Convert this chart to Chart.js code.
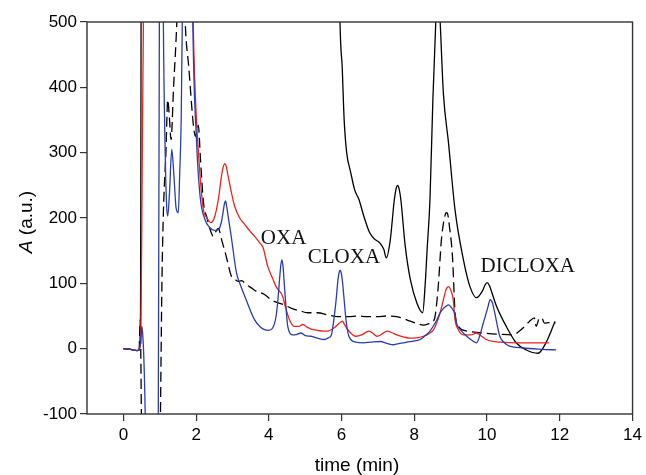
<!DOCTYPE html>
<html>
<head>
<meta charset="utf-8">
<script src="https://cdn.jsdelivr.net/npm/chart.js@4.4.1/dist/chart.umd.min.js"></script>
<style>html,body{margin:0;padding:0;background:#fff}canvas{display:block}</style>
</head>
<body>
<canvas id="c" width="646" height="475"></canvas>
<script>
// ---- data (time in min, absorbance in a.u.) ----
const xTicks = [0, 2, 4, 6, 8, 10, 12, 14];
const yTicks = [-100, 0, 100, 200, 300, 400, 500];

const blackT = [0,0.2,0.38,0.43,0.47,0.5,5.9,5.95,6.02,6.07,6.14,6.25,6.36,6.48,6.61,6.76,6.9,7.05,7.16,7.23,7.34,7.45,7.5,7.54,7.58,7.63,7.75,7.89,8.07,8.23,8.3,8.35,8.43,8.51,8.59,8.65,8.71,8.8,8.94,9.12,9.35,9.53,9.71,9.87,9.94,10.0,10.06,10.12,10.26,10.53,10.8,11.08,11.4,11.62,11.87];
const blackA = [0,-1,-3,-2,44,800,800,520,427,351,300,270,243,228,203,179,168,162,152,139,167,228,245,250,245,228,157,106,70,55,100,150,228,381,500,560,500,390,315,212,136,95,78,88,97,101,97,88,65,34,9,-2,-7,9,42];

const dashT = [0,0.2,0.38,0.43,0.465,0.48,0.495,0.53,0.98,1.02,1.06,1.1,1.17,1.22,1.27,1.31,1.38,1.47,1.55,1.63,1.7,1.8,1.92,1.98,2.06,2.12,2.2,2.3,2.4,2.47,2.55,2.61,2.7,2.83,2.97,3.07,3.15,3.25,3.38,3.52,3.65,3.88,4.06,4.16,4.43,4.61,4.85,5.07,5.34,5.6,5.89,6.2,6.43,6.7,6.98,7.25,7.52,7.7,7.89,8.05,8.25,8.43,8.55,8.65,8.75,8.85,8.88,8.91,8.97,9.05,9.12,9.21,9.44,9.89,10.35,10.71,10.89,11.05,11.17,11.3,11.35,11.44,11.5,11.58,11.7,11.88];
const dashA = [0,-1,-3,-2,44,-10,-100,-300,-300,-100,100,208,300,381,350,320,400,500,640,640,500,430,345,325,342,290,225,200,180,172,180,184,167,141,111,106,103,104,98,93,88,83,75,72,67,62,58,55,55,52,49,49,50,49,49,50,49,46,42,39,36,39,45,90,170,205,208,207,185,140,55,34,27,24,22,21,27,35,42,47,34,47,47,39,40,39];

const redT = [0,0.2,0.38,0.44,0.48,0.52,0.56,0.6,1.85,1.92,1.97,2.01,2.11,2.2,2.3,2.4,2.5,2.61,2.7,2.75,2.79,2.83,2.86,2.93,3.06,3.2,3.34,3.48,3.61,3.75,3.84,3.97,4.1,4.2,4.38,4.45,4.57,4.7,4.82,4.93,5.05,5.16,5.34,5.5,5.61,5.8,5.92,6.02,6.1,6.2,6.39,6.55,6.75,6.85,6.98,7.1,7.25,7.4,7.52,7.7,7.89,8.1,8.25,8.4,8.53,8.63,8.71,8.8,8.87,8.94,9.0,9.07,9.12,9.2,9.35,9.55,9.71,9.85,9.98,10.15,10.35,10.8,11.71];
const redA = [0,-1,-3,0,14,300,560,800,800,500,400,351,264,213,200,193,200,228,265,279,283,279,270,250,218,200,190,180,172,162,155,126,108,95,80,65,44,34,34,37,33,30,28,27,27,32,38,42,35,27,19,21,27,24,19,22,27,24,21,18,16,17,19,23,29,42,55,75,90,95,90,75,44,30,21,21,24,19,14,11,10,9,9];

const blueT = [0,0.2,0.38,0.44,0.48,0.51,0.54,0.57,0.6,0.64,0.92,0.96,0.99,1.03,1.07,1.1,1.15,1.19,1.22,1.27,1.33,1.39,1.45,1.51,1.55,1.59,1.62,1.66,1.86,1.91,2.01,2.11,2.24,2.38,2.5,2.61,2.7,2.75,2.78,2.81,2.84,2.88,2.97,3.11,3.2,3.34,3.48,3.61,3.75,3.88,4.0,4.11,4.2,4.25,4.3,4.33,4.36,4.39,4.43,4.45,4.52,4.66,4.78,4.88,5.0,5.16,5.34,5.52,5.65,5.72,5.8,5.85,5.9,5.93,5.96,5.99,6.02,6.07,6.13,6.2,6.39,6.6,6.8,7.07,7.25,7.43,7.6,7.8,8.0,8.16,8.3,8.43,8.6,8.71,8.85,8.94,9.03,9.12,9.16,9.3,9.44,9.6,9.71,9.8,9.9,10.03,10.06,10.09,10.12,10.15,10.21,10.35,10.5,10.62,10.99,11.5,11.9];
const blueA = [0,-1,-3,0,15,34,15,-27,-98,-300,-300,-100,500,800,800,500,300,218,203,240,305,265,215,208,270,351,500,800,800,500,320,233,198,185,181,182,195,212,222,226,218,203,170,116,100,80,60,44,34,29,28,32,50,75,110,128,136,126,95,80,34,21,22,24,20,19,16,14,17,21,50,75,105,116,120,116,105,75,40,19,10,9,10,11,8,6,8,10,12,14,20,27,42,55,64,67,62,52,39,27,19,12,9,20,40,65,72,75,73,70,55,19,8,4,1,-1,-2];

const peakLabels = ['OXA', 'CLOXA', 'DICLOXA'];
const peakLabelT = [3.78, 5.07, 9.82];
const peakLabelA = [160, 131, 118];

function pts(T, A) { return T.map((t, i) => ({x: t, y: A[i]})); }

const decor = {
  id: 'decor',
  beforeDraw(chart) {
    const c = chart.ctx;
    c.save(); c.fillStyle = '#fff'; c.fillRect(0, 0, chart.width, chart.height); c.restore();
  },
  afterDraw(chart) {
    const c = chart.ctx, a = chart.chartArea;
    const xs = chart.scales.x, ys = chart.scales.y;
    c.save();
    c.strokeStyle = '#333'; c.lineWidth = 1.4;
    c.strokeRect(a.left, a.top, a.right - a.left, a.bottom - a.top);
    c.fillStyle = '#111';
    c.font = '21px "Liberation Serif", "Times New Roman", serif';
    c.textAlign = 'left'; c.textBaseline = 'alphabetic';
    peakLabels.forEach((s, i) => {
      c.fillText(s, xs.getPixelForValue(peakLabelT[i]), ys.getPixelForValue(peakLabelA[i]));
    });
    c.fillStyle = '#000';
    c.font = '19px "Liberation Sans", Arial, sans-serif';
    c.textAlign = 'center'; c.textBaseline = 'middle';
    c.fillText('time (min)', 357, 466);
    c.translate(27, (a.top + a.bottom) / 2 + 4);
    c.rotate(-Math.PI / 2);
    const fI = 'italic 19px "Liberation Sans", Arial, sans-serif';
    const fN = '19px "Liberation Sans", Arial, sans-serif';
    c.font = fI; const w1 = c.measureText('A').width;
    c.font = fN; const w2 = c.measureText(' (a.u.)').width;
    const x0 = -(w1 + w2) / 2;
    c.textAlign = 'left';
    c.font = fI; c.fillText('A', x0, 0);
    c.font = fN; c.fillText(' (a.u.)', x0 + w1, 0);
    c.restore();
  }
};

const common = {pointRadius: 0, borderWidth: 1.3, fill: false, cubicInterpolationMode: 'monotone'};

new Chart(document.getElementById('c'), {
  type: 'line',
  data: {
    datasets: [
      Object.assign({label: 'blue', data: pts(blueT, blueA), borderColor: '#2b3da8'}, common),
      Object.assign({label: 'red', data: pts(redT, redA), borderColor: '#e8251f'}, common),
      Object.assign({label: 'dashed', data: pts(dashT, dashA), borderColor: '#000', borderDash: [10, 5]}, common),
      Object.assign({label: 'black', data: pts(blackT, blackA), borderColor: '#000'}, common)
    ]
  },
  options: {
    responsive: false,
    devicePixelRatio: 1,
    animation: false,
    layout: {padding: {top: 22, right: 10, left: 0, bottom: 0}},
    plugins: {legend: {display: false}, tooltip: {enabled: false}},
    scales: {
      x: {
        type: 'linear', min: -1, max: 14,
        afterBuildTicks(s) { s.ticks = xTicks.map(v => ({value: v})); },
        afterFit(s) { s.height = 61; },
        grid: {display: true, drawOnChartArea: false, drawTicks: true, tickLength: 7, color: '#333', lineWidth: 1.2},
        border: {display: false},
        ticks: {color: '#000', padding: 4, maxRotation: 0, font: {family: '"Liberation Sans", Arial, sans-serif', size: 17}}
      },
      y: {
        type: 'linear', min: -100, max: 500,
        afterBuildTicks(s) { s.ticks = yTicks.map(v => ({value: v})); },
        afterFit(s) { s.width = 87; },
        grid: {display: true, drawOnChartArea: false, drawTicks: true, tickLength: 7, color: '#333', lineWidth: 1.2},
        border: {display: false},
        ticks: {color: '#000', padding: 3, font: {family: '"Liberation Sans", Arial, sans-serif', size: 17}}
      }
    }
  },
  plugins: [decor]
});
</script>
</body>
</html>
